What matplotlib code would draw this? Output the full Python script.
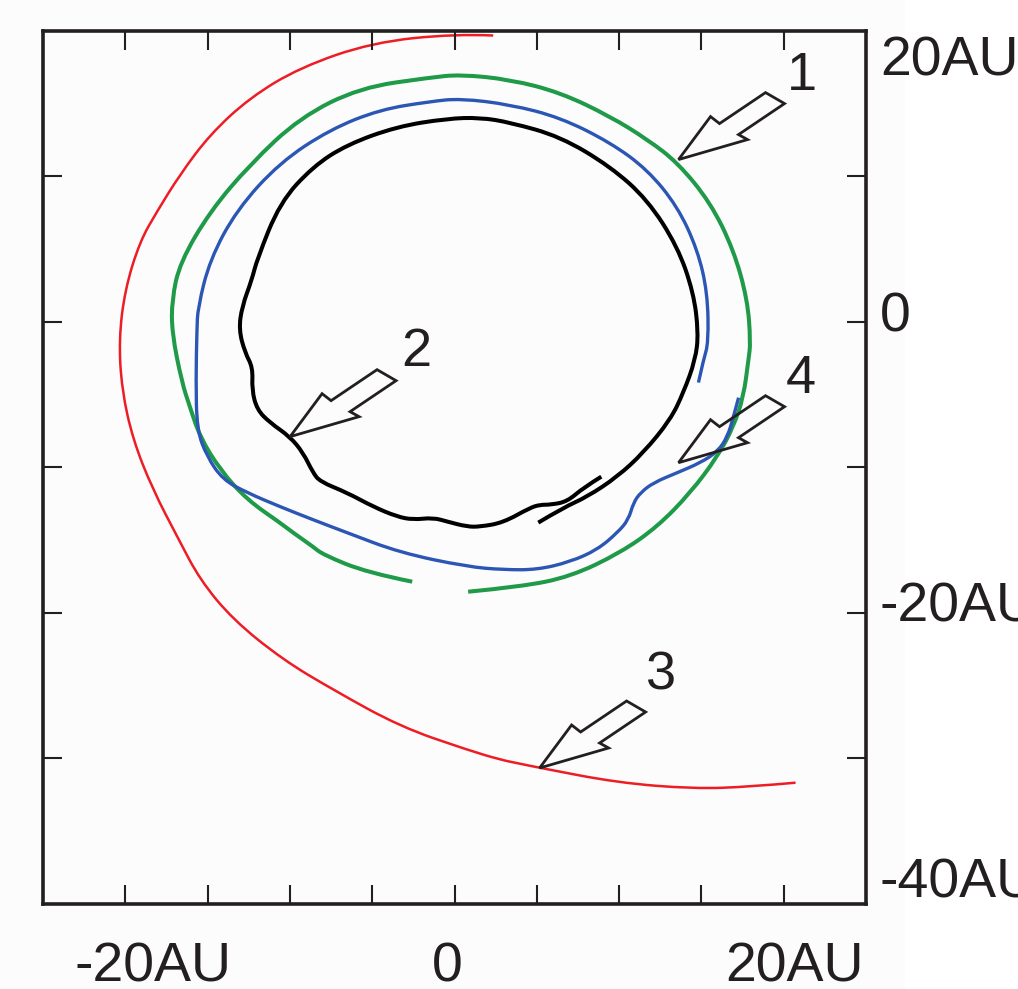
import matplotlib
matplotlib.use("Agg")
import matplotlib.pyplot as plt
from matplotlib.patches import Polygon, Rectangle, PathPatch
from matplotlib.path import Path
from matplotlib.transforms import Affine2D, ScaledTranslation

plt.rcParams["font.family"] = ["Liberation Sans", "DejaVu Sans"]
INK = "#231f20"

# traced curves, AU
red_x = [2.35, 0.04, -5.01, -9.39, -12.43, -14.86, -16.68, -18.08, -19.12, -20.02, -20.39,
         -20.21, -19.54, -18.33, -16.81, -15.47, -13.46, -10.42, -7.38, -3.30, 0.77, 2.78,
         4.00, 5.15, 9.90, 14.52, 17.99, 20.72]
red_y = [19.69, 19.81, 19.21, 17.49, 15.42, 12.88, 10.13, 7.58, 5.52, 2.22, -1.22,
         -4.66, -8.09, -11.53, -14.84, -17.72, -20.47, -23.23, -25.29, -27.83, -29.42, -30.10,
         -30.38, -30.65, -31.68, -32.10, -31.96, -31.68]

green_x = [-2.57, -5.31, -7.99, -8.60, -9.81, -10.61, -12.61, -14.25, -15.47, -16.08, -16.56,
           -17.17, -17.17, -16.68, -14.86, -12.43, -9.39, -5.74, -1.48, 0.35, 3.39,
           6.43, 9.47, 11.72, 13.55, 15.55, 16.95, 17.80, 17.99, 17.86, 17.56, 16.95, 15.98,
           14.34, 12.33, 10.08, 7.04, 4.00, 0.83]
green_y = [-17.86, -17.24, -16.00, -15.45, -14.49, -13.80, -12.22, -10.16, -7.89, -5.83, -4.17,
           -0.74, 1.53, 4.08, 7.58, 10.82, 14.05, 16.11, 16.80, 17.01, 16.66,
           15.77, 14.12, 12.54, 10.96, 8.20, 4.97, 1.53, -1.42, -2.59, -5.14, -7.20, -9.26,
           -11.74, -14.08, -15.87, -17.52, -18.21, -18.55]

blue_x = [14.82, 15.13, 15.43, 15.37, 14.76, 13.55, 11.72, 9.47, 6.43, 3.39, 0.35, -1.48,
          -4.52, -7.56, -10.61, -13.22, -14.86, -15.59, -15.65, -15.71, -15.65, -15.04, -14.07,
          -12.61, -10.61, -8.60, -6.53, -3.30, 0.77, 2.96, 5.03, 7.04, 8.68, 9.90, 10.57,
          10.87, 11.30, 12.09, 13.55, 14.95, 15.98, 16.59, 16.95, 17.26]
blue_y = [-4.17, -2.59, -1.42, 2.02, 4.97, 7.93, 10.47, 12.33, 14.05, 14.94, 15.36, 15.15,
          14.60, 13.23, 10.96, 7.72, 4.28, 0.98, -0.53, -3.97, -7.41, -9.26, -10.85,
          -11.74, -12.70, -13.60, -14.49, -15.87, -16.83, -17.04, -17.04, -16.49, -15.66, -14.49, -13.60,
          -12.43, -11.74, -11.05, -10.36, -9.68, -8.92, -7.89, -6.51, -5.21]

black_x = [8.92, 7.83, 6.84, 5.82, 5.21, 4.60, 2.96, 1.56, 0.77, -0.44, -1.30, -2.51, -3.49,
           -4.95, -6.53, -8.17, -8.60, -9.20, -10.00, -11.21, -12.00, -12.31, -12.25, -12.73,
           -13.10, -12.91, -12.31, -12.00, -10.61, -8.60, -6.53, -3.49, -0.44, 1.56, 3.39,
           6.43, 9.47, 11.72, 13.55, 14.52, 14.82, 14.64, 13.91, 13.12, 11.48, 9.90, 8.07,
           6.61, 5.09]
black_y = [-10.64, -11.40, -12.36, -12.57, -12.57, -12.77, -13.80, -14.08, -14.08, -13.73,
           -13.46, -13.60, -13.39, -12.70, -11.74, -10.98, -10.36, -8.99, -7.89, -6.93, -6.03,
           -4.66, -3.14, -2.11, -0.53, 1.05, 2.91, 4.28, 8.20, 10.68, 12.19, 13.43, 13.98,
           14.05, 13.71, 12.74, 10.68, 8.41, 5.18, 2.02, -0.74, -2.59, -4.86, -6.72, -8.99,
           -10.64, -12.02, -12.77, -13.80]

# arrow tips (AU) and their labels
arrow_tips = [(13.61, 11.16), (-9.99, -7.89), (5.17, -30.67), (13.61, -9.68)]
arrow_labels = ["1", "2", "3", "4"]


def smooth_path(xs, ys):
    # quadratic bezier through midpoints, traced points act as control points
    pts = list(zip(xs, ys))
    verts = [pts[0]]
    codes = [Path.MOVETO]
    for i in range(1, len(pts) - 1):
        mx = (pts[i][0] + pts[i + 1][0]) / 2
        my = (pts[i][1] + pts[i + 1][1]) / 2
        if i == len(pts) - 2:
            mx, my = pts[-1]
        verts += [pts[i], (mx, my)]
        codes += [Path.CURVE3, Path.CURVE3]
    return Path(verts, codes)


W, H = 1018, 989
fig = plt.figure(figsize=(W / 100, H / 100), dpi=100, facecolor="#fcfcfc")
fig.patches.append(Rectangle((905 / W, 0), 1, 1, transform=fig.transFigure,
                             color="white", zorder=-5))
ax = fig.add_axes([43 / W, 1 - 903.7 / H, 823 / W, 872.7 / H])
ax.set_facecolor("#fcfcfc")
ax.set_xlim(-25, 25)
ax.set_ylim(-40, 20)

for xs, ys, c, lw in [(red_x, red_y, "#ee1c25", 1.8),
                      (green_x, green_y, "#1e9a48", 2.9),
                      (blue_x, blue_y, "#2b56b4", 2.4),
                      (black_x, black_y, "black", 2.9)]:
    ax.add_patch(PathPatch(smooth_path(xs, ys), fill=False, ec=c, lw=lw,
                           capstyle="butt", joinstyle="round"))

# hollow "lightning" arrows, shape in pixels relative to the tip
shape = [(0, 0), (32, -43), (41, -36), (87, -67), (106, -56), (60, -25), (69, -20)]
for tip in arrow_tips:
    tr = Affine2D().scale(1, -1) + ScaledTranslation(tip[0], tip[1], ax.transData)
    ax.add_patch(Polygon(shape, closed=True, fill=False, ec=INK, lw=2.0,
                         joinstyle="miter", transform=tr, zorder=5))

label_px = [(802, 76), (416, 352), (661, 676), (801, 379)]
for lab, (px, py) in zip(arrow_labels, label_px):
    fig.text(px / W, 1 - py / H, lab, ha="center", va="center", fontsize=39, color=INK)

ax.set_xticks(range(-20, 21, 5))
ax.set_yticks(range(-30, 11, 10))
ax.tick_params(direction="in", length=13.5, width=1.5, color=INK,
               top=True, right=True, labelbottom=False, labelleft=False)
for s in ax.spines.values():
    s.set_linewidth(2.6)
    s.set_color(INK)

# axis labels placed as in the figure
for txt, px, py in [("-20AU", 153, 981), ("0", 447, 981), ("20AU", 795, 981)]:
    fig.text(px / W, 1 - py / H, txt, ha="center", va="baseline", fontsize=40, color=INK)
for txt, py in [("20AU", 75), ("0", 332), ("-20AU", 622), ("-40AU", 897)]:
    fig.text(880 / W, 1 - py / H, txt, ha="left", va="baseline", fontsize=40, color=INK)

fig.savefig("out.png", dpi=100, facecolor=fig.get_facecolor())
